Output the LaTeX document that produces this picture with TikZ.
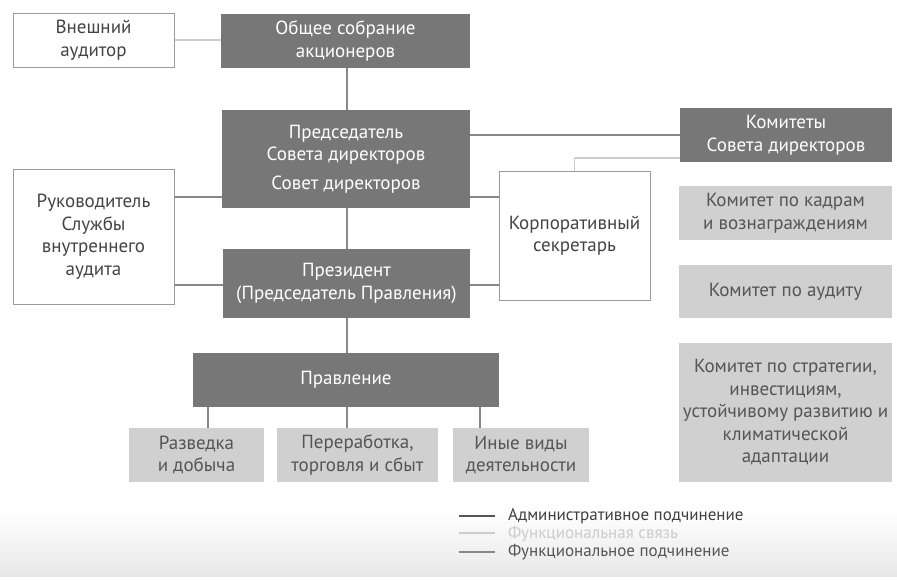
\documentclass[tikz,border=0pt]{standalone}
\usepackage{fontspec}
\setmainfont{PT Sans}
\begin{document}
\begin{tikzpicture}[x=1pt,y=-1pt,
  every node/.style={font=\fontsize{19}{22.5}\selectfont, align=center, inner sep=0pt},
  darkbox/.style={fill=boxdark, text=white, draw=none},
  whitebox/.style={fill=white, draw=borderg, line width=1pt, text=textdark},
  lightbox/.style={fill=boxlight, draw=none, text=textmid},
  admin/.style={draw=lineg, line width=1.3pt},
  funclink/.style={draw=linelight, line width=1.3pt},
  funcsub/.style={draw=lineg, line width=1.3pt},
  legtext/.style={anchor=west, font=\fontsize{17}{20}\selectfont}]
\definecolor{boxdark}{HTML}{777777}
\definecolor{boxlight}{HTML}{D0D0D0}
\definecolor{borderg}{HTML}{9A9A9A}
\definecolor{textdark}{HTML}{444444}
\definecolor{textmid}{HTML}{555555}
\definecolor{lineg}{HTML}{888888}
\definecolor{linelight}{HTML}{CCCCCC}
\useasboundingbox (0,0) rectangle (897,579);
\shade[top color=white, bottom color=black!9] (0,510) rectangle (897,576);

% boxes
\node[whitebox, minimum width=161, minimum height=54] (aud) at (93.5,40) {Внешний\\аудитор};
\node[darkbox, minimum width=249, minimum height=54] (gsm) at (345.5,41) {Общее собрание\\акционеров};
\node[darkbox, minimum width=248, minimum height=98] (chair) at (346,159) {Председатель\\Совета директоров\\[6pt]Совет директоров};
\node[darkbox, minimum width=212, minimum height=54] (com) at (786,135) {Комитеты\\Совета директоров};
\node[whitebox, minimum width=151, minimum height=129] (corp) at (574.5,235.5) {Корпоративный\\секретарь};
\node[whitebox, minimum width=161, minimum height=135] (ria) at (93.5,236.5) {Руководитель\\Службы\\внутреннего\\аудита};
\node[darkbox, minimum width=247, minimum height=69] (pres) at (346.5,283.5) {Президент\\(Председатель Правления)};
\node[darkbox, minimum width=306, minimum height=54] (board) at (346,380) {Правление};
\node[lightbox, minimum width=135, minimum height=54] (c1) at (196.5,455) {Разведка\\и добыча};
\node[lightbox, minimum width=161, minimum height=54] (c2) at (357.5,455) {Переработка,\\торговля и сбыт};
\node[lightbox, minimum width=136, minimum height=54] (c3) at (521,455) {Иные виды\\деятельности};
\node[lightbox, minimum width=213, minimum height=54] (k1) at (785.5,213) {Комитет по кадрам\\и вознаграждениям};
\node[lightbox, minimum width=213, minimum height=53] (k2) at (785.5,291.5) {Комитет по аудиту};
\node[lightbox, minimum width=213, minimum height=139] (k3) at (785.5,412.5) {Комитет по стратегии,\\инвестициям,\\устойчивому развитию и\\климатической\\адаптации};

% helper coordinates
\coordinate (ya) at (0,197);
\coordinate (yb) at (0,285);
\coordinate (yc) at (0,158);
\coordinate (v1) at (208,0);
\coordinate (v2) at (347,0);
\coordinate (v3) at (480,0);

% connectors
\draw[funclink] (aud.east) -- (aud.east -| gsm.west);
\draw[admin] (v2 |- gsm.south) -- (v2 |- chair.north);
\draw[admin] (com.west) -- (com.west -| chair.east);
\draw[admin] (ya -| ria.east) -- (ya -| chair.west);
\draw[admin] (ya -| chair.east) -- (ya -| corp.west);
\draw[funclink] (corp.north) |- (yc -| com.west);
\draw[admin] (v2 |- chair.south) -- (v2 |- pres.north);
\draw[admin] (yb -| ria.east) -- (yb -| pres.west);
\draw[admin] (yb -| pres.east) -- (yb -| corp.west);
\draw[admin] (v2 |- pres.south) -- (v2 |- board.north);
\draw[admin] (v1 |- board.south) -- (v1 |- c1.north);
\draw[admin] (v2 |- board.south) -- (v2 |- c2.north);
\draw[admin] (v3 |- board.south) -- (v3 |- c3.north);

% legend
\coordinate (la1) at (459,516); \coordinate (la2) at (495,516);
\coordinate (lb1) at (459,533); \coordinate (lb2) at (495,533);
\coordinate (lc1) at (459,552); \coordinate (lc2) at (495,552);
\draw[draw=textmid, line width=1.2pt] (la1) -- (la2);
\draw[funclink, line width=1.2pt] (lb1) -- (lb2);
\draw[draw=lineg, line width=1.2pt] (lc1) -- (lc2);
\node[legtext, text=black!75] (t1) at (508,516) {Административное подчинение};
\node[legtext, text=linelight] (t2) at (508,534) {Функциональная связь};
\node[legtext, text=textmid] (t3) at (508,552) {Функциональное подчинение};
\end{tikzpicture}
\end{document}
